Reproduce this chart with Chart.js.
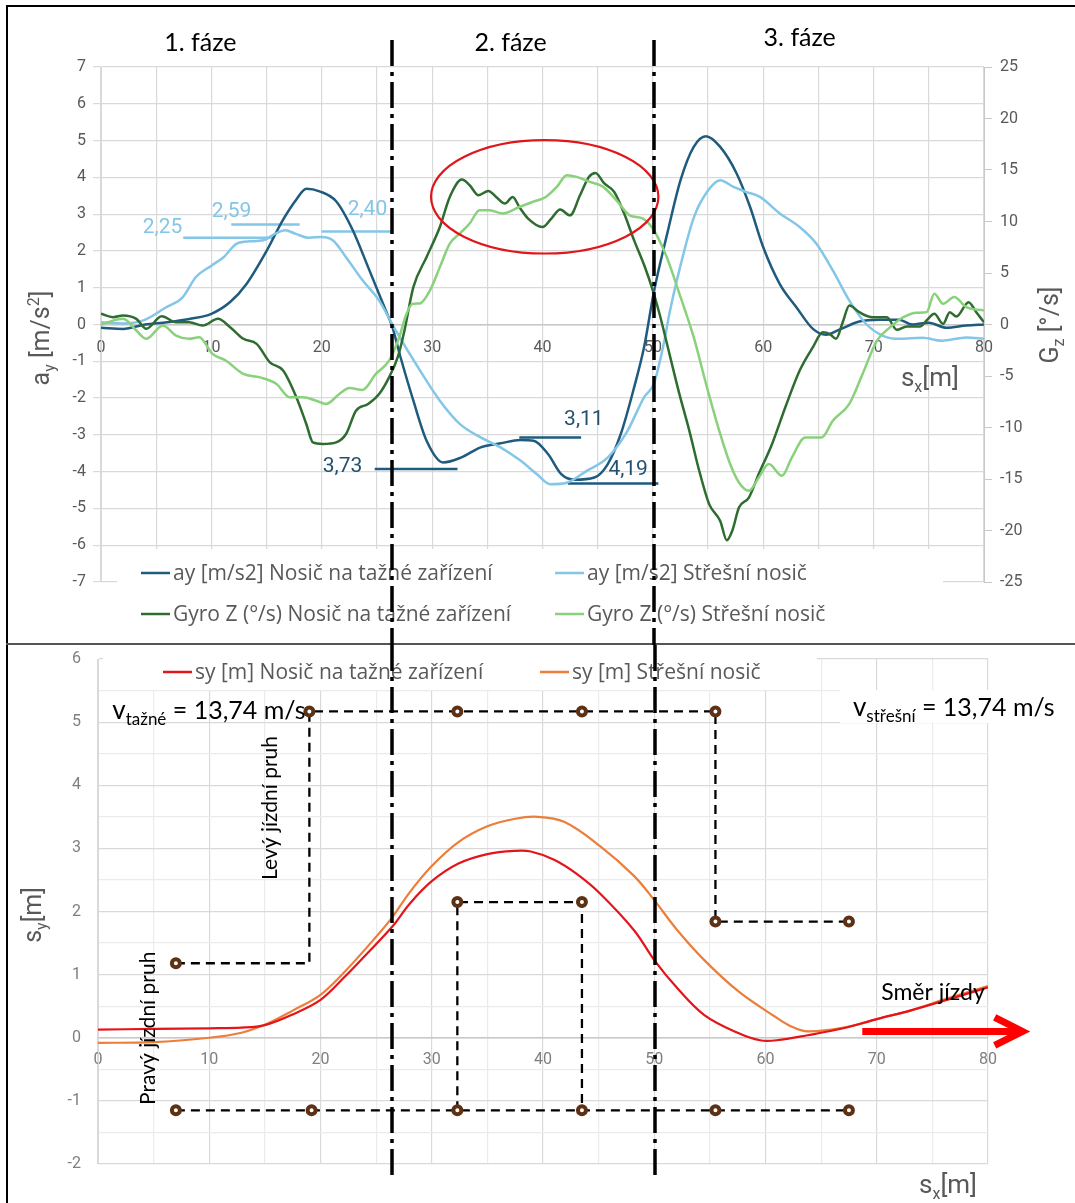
<!DOCTYPE html>
<html>
<head>
<meta charset="utf-8">
<script src="https://cdn.jsdelivr.net/npm/chart.js@4.4.1/dist/chart.umd.min.js"></script>
<style>
html, body { margin: 0; padding: 0; background: #fff; }
#page { position: relative; width: 1075px; height: 1203px; overflow: hidden; background: #fff; }
#frame { position: absolute; left: 6px; top: 5px; width: 1200px; height: 1300px; border-top: 2px solid #000; border-left: 2px solid #000; }
#sep { position: absolute; left: 6px; top: 643px; width: 1100px; border-top: 2px solid #555; }
canvas { position: absolute; left: 0; }
#topChart { top: 0; }
#botChart { top: 645px; }
</style>
</head>
<body>
<div id="page">
  <div id="frame"></div>
  <div id="sep"></div>
  <canvas id="topChart" width="1075" height="645"></canvas>
  <canvas id="botChart" width="1075" height="558"></canvas>
</div>
<script>
// ---- data: top chart (ay left axis, gyro right axis) ----
const ayTazneX = [0,2,4,6,8,10,11.7,13.2,15,16.5,17.7,18.6,19.8,21.3,22.8,24.2,25.8,26.4,27.1,28.3,29.5,31,32.6,34.4,36.2,38,39.2,40.5,41.7,42.9,44.7,45.9,47.1,48.3,49.2,50.1,51.3,52.5,53.7,54.8,56.1,57.6,58.8,60,61.5,63,64.5,65.7,66.9,68.7,70.5,72.3,73.5,75,76.6,78.4,80];
const ayTazneY = [-0.09,-0.12,0,0.06,0.15,0.29,0.61,1.11,2.0,2.85,3.4,3.69,3.62,3.35,2.57,1.56,0.38,-0.07,-0.85,-2.07,-3.16,-3.75,-3.62,-3.34,-3.23,-3.14,-3.16,-3.52,-4.07,-4.22,-4.16,-3.8,-2.97,-1.71,-0.62,0.9,2.47,3.92,4.83,5.12,4.83,4.1,3.2,2.1,1.1,0.47,-0.12,-0.28,-0.14,0.08,0.13,0.13,0.0,0.05,-0.09,-0.03,0];

const ayStresniX = [0,2,3.9,5.9,7.4,8.6,10,11.1,12.3,13.5,14.7,15.8,16.7,17.6,18.8,20,21,22.2,23.7,25.2,26.7,28.9,30.7,32.5,34.4,36.2,38,39.5,40.7,42.2,44,45.9,47.7,49.2,50.1,51,51.5,52.5,53.7,54.9,56.1,57.3,58.5,59.7,61.5,63.3,64.8,66.3,67.8,69.3,70.8,72.3,74.4,76.2,78.4,80];
const ayStresniY = [0.06,0.03,0.12,0.47,0.74,1.29,1.6,1.83,2.2,2.26,2.29,2.47,2.56,2.47,2.36,2.38,2.29,1.83,1.2,0.65,-0.16,-1.25,-2.07,-2.7,-3.07,-3.34,-3.7,-4.07,-4.34,-4.3,-3.98,-3.62,-2.89,-1.98,-1.6,-0.5,0.3,1.6,2.9,3.6,3.92,3.74,3.6,3.47,3.02,2.65,2.2,1.47,0.65,0.02,-0.3,-0.39,-0.36,-0.44,-0.35,-0.39];

const gyroTazneX = [0,1.1,2,3.2,4.1,5.5,6.8,8,9.2,10.6,11.7,12.9,14.1,15.3,16.5,17.7,18.6,19.2,20.1,21.3,22.2,23.1,24.2,25.2,26.1,26.9,27.5,28.3,29.5,30.7,31.6,32.7,33.4,34.2,35.1,35.8,36.6,37.3,37.9,38.7,40,40.8,41.6,42.5,43.4,44.2,44.8,45.6,46.5,47.4,48.3,49.2,50,50.6,51.5,52.4,53.3,54.2,55.1,56.1,56.7,57.2,57.8,58.7,59.6,60.8,62,63.3,64.5,65.4,66,66.6,67.2,67.8,68.7,69.9,71.2,72.1,73,74.2,74.8,75.5,76.3,76.9,77.5,78.6,79.3,80];
const gyroTazneY = [1.04,0.71,0.88,0.55,-0.42,0.81,0.22,0.22,-0.1,0.55,-0.26,-1.39,-1.88,-3.67,-4.47,-7.07,-9.66,-11.45,-11.6,-11.45,-10.63,-8.37,-7.71,-6.74,-5.13,-3.13,-0.55,3.63,6.55,9.46,12.38,14.07,13.52,12.55,12.97,12.38,11.74,12.38,11.41,10.28,9.46,10.28,11.16,10.6,12.55,14.33,14.72,13.69,12.87,10.77,8.17,5.8,3.3,1.04,-2.85,-6.74,-10.3,-14.2,-17.44,-19.07,-20.94,-20,-17.77,-16.8,-14.5,-11.6,-8.04,-4.47,-2.2,-0.75,-0.9,-1.39,0.22,1.85,1.2,0.71,0.71,-0.52,-0.19,-0.19,0.39,1.04,0.07,1.2,0.78,2.17,1.2,0.22];

const gyroStresniX = [0,2,3.2,4.1,5.6,6.8,8,8.9,10.1,11.3,12.9,14.4,15.9,17.1,18.3,19.5,20.4,21.6,22.5,23.7,24.9,26.1,27,27.6,28.2,28.9,29.8,30.7,31.6,32.5,33.4,34.3,35.2,36.4,37.9,39.1,40.3,41.3,42.2,43.1,44.3,45.5,46.7,47.9,49.1,50,51.2,52.4,53.7,54.9,56.1,57,57.8,58.7,59.6,60.5,61.7,62.6,63.8,65.3,66.3,67.8,69,70.3,71.5,72.7,73.9,74.8,75.5,76.3,77.3,78.4,80];
const gyroStresniY = [0,0.55,-0.58,-1.39,-0.1,-1.07,-1.39,-1.23,-2.85,-3.5,-4.8,-5.13,-5.77,-7.07,-7.07,-7.4,-7.71,-6.74,-6.16,-6.35,-4.8,-3.5,-1.3,0.8,2.0,2.05,3.3,5.57,7.85,8.82,9.8,11.09,11.09,10.77,11.41,11.9,12.38,13.36,14.5,14.33,13.84,13.36,12.06,10.6,10.28,9.3,6.7,3.0,-1.23,-6.1,-10.63,-13.55,-15.34,-16.15,-14.85,-13.55,-14.69,-12.9,-10.96,-10.96,-9.34,-7.71,-4.8,-1.56,-0.26,0.71,1.14,1.2,2.99,2.01,2.66,1.69,1.36];

// marked levels (value labels with short lines)
const levelText = ['2,25','2,59','2,40','3,73','3,11','4,19'];
const levelX0 = [7.45, 11.8, 20.0, 24.8, 37.9, 42.3];
const levelX1 = [15.6, 18.0, 26.3, 32.3, 43.5, 50.5];
const levelY  = [2.36, 2.72, 2.53, -3.93, -3.07, -4.32];
const levelLabelX = [5.57, 11.82, 24.14, 21.88, 43.75, 47.76];
const levelLabelY = [2.63, 3.06, 3.11, -3.87, -2.6, -3.95];

const phaseX = [26.4, 50.1];
const phaseNames = ['1. fáze', '2. fáze', '3. fáze'];
const phaseNameX = [9.0, 37.1, 63.3];

// ---- data: bottom chart (trajectory) ----
const syTazneX = [0,5,10,12.9,15,17.5,20,22.2,24,26.5,28,30,32.4,35,37.5,38.9,41,43,45.1,48.2,50,52,54.5,57.6,59.5,61,63.8,67,70.1,73,76.3,80];
const syTazneY = [0.13,0.14,0.15,0.16,0.2,0.37,0.6,0.97,1.3,1.77,2.12,2.48,2.76,2.91,2.96,2.95,2.82,2.6,2.29,1.7,1.23,0.8,0.36,0.07,-0.04,-0.04,0.04,0.15,0.3,0.43,0.6,0.8];
const syStresniX = [0,5,10,12.9,15.3,17.5,20,22.2,25,26.5,28,30,32.4,35,37.5,39.5,41.9,45.1,48.2,50,52,54.5,57.6,60.8,62.3,63.8,67,70.1,73,76.3,80];
const syStresniY = [-0.08,-0.07,0,0.08,0.23,0.43,0.68,1.05,1.6,1.92,2.3,2.72,3.1,3.35,3.47,3.5,3.42,3.04,2.56,2.18,1.72,1.23,0.73,0.34,0.18,0.1,0.16,0.3,0.43,0.62,0.82];

const laneLeftX = [7, 19, 19, 55.5, 55.5, 67.5];
const laneLeftY = [1.18, 1.18, 5.17, 5.17, 1.84, 1.84];
const laneMidX = [32.3, 32.3, 43.5, 43.5];
const laneMidY = [-1.15, 2.15, 2.15, -1.15];
const laneRightX = [7, 67.5];
const laneRightY = [-1.15, -1.15];
const coneX = [7, 19, 32.3, 43.5, 55.5, 55.5, 67.5, 32.3, 43.5, 7, 19.2, 32.3, 43.5, 55.5, 67.5];
const coneY = [1.18, 5.17, 5.17, 5.17, 5.17, 1.84, 1.84, 2.15, 2.15, -1.15, -1.15, -1.15, -1.15, -1.15, -1.15];

const C = {
  darkBlue: '#1f5b7e', lightBlue: '#84c6e8', darkGreen: '#2e6c30', lightGreen: '#8ad17c',
  red: '#e4141b', orange: '#ec7d3a', brown: '#5c3114', tick: '#595959', grid: '#d9d9d9'
};
const TF = 'Roboto';
const LF = '"Open Sans"';
const AF = 'Lato';

const pts = (xs, ys) => xs.map((x, i) => ({ x: x, y: ys[i] }));
const segs = (idx) => {
  const out = [];
  idx.forEach(i => { out.push({ x: levelX0[i], y: levelY[i] }, { x: levelX1[i], y: levelY[i] }, { x: levelX1[i], y: null }); });
  return out;
};
// keep axis label padding from pushing the plot area around
const noPad = (w) => (s) => { s.width = w; s.paddingTop = 0; s.paddingBottom = 0; };

// text with sub/superscripts: parts = [text, size, dy]
function rich(ctx, parts, x, y, align, color, family) {
  let w = 0;
  parts.forEach(p => { ctx.font = p[1] + 'px ' + family; w += ctx.measureText(p[0]).width; });
  let cx = align === 'center' ? x - w / 2 : (align === 'right' ? x - w : x);
  ctx.fillStyle = color;
  ctx.textAlign = 'left';
  ctx.textBaseline = 'alphabetic';
  parts.forEach(p => {
    ctx.font = p[1] + 'px ' + family;
    ctx.fillText(p[0], cx, y + (p[2] || 0));
    cx += ctx.measureText(p[0]).width;
  });
}
function richRot(ctx, parts, x, y, color, family) {
  ctx.save();
  ctx.translate(x, y);
  ctx.rotate(-Math.PI / 2);
  rich(ctx, parts, 0, 0, 'center', color, family);
  ctx.restore();
}
function phaseLines(chart, y0, y1) {
  const ctx = chart.ctx, xs = chart.scales.x;
  ctx.save();
  ctx.strokeStyle = '#000';
  ctx.lineWidth = 3.5;
  ctx.setLineDash([26, 6, 4, 6]);
  phaseX.forEach(v => {
    const px = Math.round(xs.getPixelForValue(v));
    ctx.beginPath(); ctx.moveTo(px, y0); ctx.lineTo(px, y1); ctx.stroke();
  });
  ctx.restore();
}
function legendItem(ctx, x, y, color, text) {
  ctx.strokeStyle = color; ctx.lineWidth = 2.5;
  ctx.beginPath(); ctx.moveTo(x, y); ctx.lineTo(x + 29, y); ctx.stroke();
  ctx.fillStyle = '#595959'; ctx.font = '21px ' + LF;
  ctx.textAlign = 'left'; ctx.textBaseline = 'middle';
  ctx.fillText(text, x + 32, y + 1);
}

const topDecor = {
  id: 'topDecor',
  beforeDatasetsDraw(chart) {
    const ctx = chart.ctx;
    ctx.save();
    ctx.fillStyle = '#fff';
    ctx.fillRect(117, 549, 826, 92);
    legendItem(ctx, 141, 573, C.darkBlue, 'ay [m/s2] Nosič na tažné zařízení');
    legendItem(ctx, 555, 573, C.lightBlue, 'ay [m/s2] Střešní nosič');
    legendItem(ctx, 141, 614, C.darkGreen, 'Gyro Z (°/s) Nosič na tažné zařízení');
    legendItem(ctx, 555, 614, C.lightGreen, 'Gyro Z (°/s) Střešní nosič');
    ctx.restore();
  },
  afterDraw(chart) {
    const ctx = chart.ctx, xs = chart.scales.x, ys = chart.scales.y;
    ctx.save();
    // ellipse around 2nd phase peak
    const cx = xs.getPixelForValue(40.2), cy = ys.getPixelForValue(3.47);
    const rx = xs.getPixelForValue(40.2 + 10.3) - cx, ry = cy - ys.getPixelForValue(3.47 + 1.54);
    ctx.strokeStyle = '#e0161b'; ctx.lineWidth = 2.2;
    ctx.beginPath(); ctx.ellipse(cx, cy, rx, ry, 0, 0, Math.PI * 2); ctx.stroke();
    // level labels
    ctx.font = '21px ' + TF; ctx.textAlign = 'center'; ctx.textBaseline = 'middle';
    levelText.forEach((t, i) => {
      ctx.fillStyle = i < 3 ? C.lightBlue : '#24506f';
      ctx.fillText(t, xs.getPixelForValue(levelLabelX[i]), ys.getPixelForValue(levelLabelY[i]));
    });
    // phase names
    ctx.fillStyle = '#000'; ctx.font = '25px ' + AF;
    phaseNames.forEach((t, i) => ctx.fillText(t, xs.getPixelForValue(phaseNameX[i]), i === 2 ? 38 : 43));
    // axis titles
    rich(ctx, [['s', 26], ['x', 16, 6], ['[m]', 26]], xs.getPixelForValue(75.1), 386, 'center', '#595959', TF);
    richRot(ctx, [['a', 25], ['y', 16, 6], [' [m/s', 25], ['2', 16, -10], [']', 25]], 49, 338, '#595959', TF);
    richRot(ctx, [['G', 25], ['z', 16, 6], [' [°/s]', 25]], 1058, 325, '#595959', TF);
    ctx.restore();
    phaseLines(chart, 40, 645);
  }
};

const botDecor = {
  id: 'botDecor',
  beforeDatasetsDraw(chart) {
    const ctx = chart.ctx;
    ctx.save();
    ctx.fillStyle = '#fff';
    ctx.fillRect(103, 10, 714, 35);
    ctx.fillRect(840, 45, 225, 33);
    legendItem(ctx, 163, 27, C.red, 'sy [m] Nosič na tažné zařízení');
    legendItem(ctx, 540, 27, C.orange, 'sy [m] Střešní nosič');
    ctx.restore();
  },
  afterDraw(chart) {
    const ctx = chart.ctx, xs = chart.scales.x, ys = chart.scales.y;
    ctx.save();
    // direction arrow
    const ay = ys.getPixelForValue(0.1);
    const ax0 = xs.getPixelForValue(68.7), ax1 = xs.getPixelForValue(83.1), ah = xs.getPixelForValue(80.6);
    ctx.strokeStyle = '#ff0000'; ctx.lineWidth = 7; ctx.lineJoin = 'miter';
    ctx.beginPath(); ctx.moveTo(ax0, ay); ctx.lineTo(ax1 - 3, ay); ctx.stroke();
    ctx.beginPath(); ctx.moveTo(ah, ay - 14); ctx.lineTo(ax1, ay); ctx.lineTo(ah, ay + 14); ctx.stroke();
    // texts
    rich(ctx, [['Směr jízdy', 23]], xs.getPixelForValue(70.4), ys.getPixelForValue(0.6), 'left', '#000', AF);
    rich(ctx, [['v', 26], ['tažné', 17, 6], [' = 13,74 m/s', 25]], xs.getPixelForValue(1.28), ys.getPixelForValue(5.05), 'left', '#000', AF);
    rich(ctx, [['v', 26], ['střešní', 17, 6], [' = 13,74 m/s', 25]], xs.getPixelForValue(67.86), ys.getPixelForValue(5.09), 'left', '#000', AF);
    richRot(ctx, [['Levý jízdní pruh', 21]], xs.getPixelForValue(15.48) + 7, ys.getPixelForValue(3.64), '#000', AF);
    richRot(ctx, [['Pravý jízdní pruh', 21]], xs.getPixelForValue(4.52) + 7, ys.getPixelForValue(0.15), '#000', AF);
    rich(ctx, [['s', 26], ['x', 16, 6], ['[m]', 26]], 977, 548, 'right', '#595959', TF);
    richRot(ctx, [['s', 25], ['y', 16, 6], ['[m]', 25]], 41, 270, '#595959', TF);
    ctx.restore();
    phaseLines(chart, 0, 530);
  }
};

Chart.defaults.font.family = TF;
Chart.defaults.color = C.tick;

new Chart(document.getElementById('topChart'), {
  type: 'line',
  data: {
    datasets: [
      { label: 'Gyro Z (°/s) Střešní nosič', data: pts(gyroStresniX, gyroStresniY), borderColor: C.lightGreen, yAxisID: 'y2' },
      { label: 'Gyro Z (°/s) Nosič na tažné zařízení', data: pts(gyroTazneX, gyroTazneY), borderColor: C.darkGreen, yAxisID: 'y2' },
      { label: 'ay [m/s2] Střešní nosič', data: pts(ayStresniX, ayStresniY), borderColor: C.lightBlue, yAxisID: 'y' },
      { label: 'ay [m/s2] Nosič na tažné zařízení', data: pts(ayTazneX, ayTazneY), borderColor: C.darkBlue, yAxisID: 'y' },
      { label: 'levels1', data: segs([0, 1, 2]), borderColor: C.lightBlue, borderWidth: 2.5, cubicInterpolationMode: 'default', tension: 0, yAxisID: 'y' },
      { label: 'levels2', data: segs([3, 4, 5]), borderColor: C.darkBlue, borderWidth: 2.5, cubicInterpolationMode: 'default', tension: 0, yAxisID: 'y' }
    ]
  },
  options: {
    responsive: false, animation: false, devicePixelRatio: 1,
    layout: { padding: { top: 67, bottom: 63, left: 0, right: 0 } },
    elements: { point: { radius: 0 }, line: { borderWidth: 2.5, cubicInterpolationMode: 'monotone', fill: false } },
    plugins: { legend: { display: false }, tooltip: { enabled: false } },
    scales: {
      x: {
        type: 'linear', min: 0, max: 80, position: { y: 0 },
        afterFit(s) { s.height = 0; },
        ticks: { stepSize: 5, autoSkip: false, maxRotation: 0, padding: 14, font: { size: 16 }, color: C.tick,
          callback: v => (v % 10 === 0 ? v : '') },
        grid: { color: C.grid, lineWidth: 1.2, drawTicks: false },
        border: { color: '#c8c8c8', width: 1.5 }
      },
      y: {
        position: 'left', min: -7, max: 7,
        afterFit: noPad(101),
        ticks: { stepSize: 1, padding: 7, font: { size: 16 }, color: C.tick },
        grid: { color: C.grid, lineWidth: 1.2, tickLength: 8 },
        border: { color: C.grid }
      },
      y2: {
        position: 'right', min: -25, max: 25,
        afterFit: noPad(91),
        ticks: { stepSize: 5, padding: 8, font: { size: 16 }, color: C.tick },
        grid: { drawOnChartArea: false, color: '#c8c8c8', tickLength: 8 },
        border: { color: '#c8c8c8' }
      }
    }
  },
  plugins: [topDecor]
});

new Chart(document.getElementById('botChart'), {
  type: 'line',
  data: {
    datasets: [
      { label: 'sy [m] Nosič na tažné zařízení', data: pts(syTazneX, syTazneY), borderColor: C.red, borderWidth: 2.2, cubicInterpolationMode: 'default', tension: 0.35 },
      { label: 'sy [m] Střešní nosič', data: pts(syStresniX, syStresniY), borderColor: C.orange, borderWidth: 2.2, cubicInterpolationMode: 'default', tension: 0.35 },
      { label: 'cones', data: pts(coneX, coneY), showLine: false, pointRadius: 4, pointBorderWidth: 4,
        pointBackgroundColor: '#fff', pointBorderColor: C.brown },
      { label: 'lane left', data: pts(laneLeftX, laneLeftY), borderColor: '#000', borderWidth: 2.3, borderDash: [9, 6], tension: 0, cubicInterpolationMode: 'default' },
      { label: 'lane mid', data: pts(laneMidX, laneMidY), borderColor: '#000', borderWidth: 2.3, borderDash: [9, 6], tension: 0, cubicInterpolationMode: 'default' },
      { label: 'lane right', data: pts(laneRightX, laneRightY), borderColor: '#000', borderWidth: 2.3, borderDash: [9, 6], tension: 0, cubicInterpolationMode: 'default' }
    ]
  },
  options: {
    responsive: false, animation: false, devicePixelRatio: 1,
    layout: { padding: { top: 14, bottom: 39, left: 0, right: 87 } },
    elements: { point: { radius: 0 }, line: { borderWidth: 2.2, cubicInterpolationMode: 'monotone', fill: false } },
    plugins: { legend: { display: false }, tooltip: { enabled: false } },
    scales: {
      x: {
        type: 'linear', min: 0, max: 80, position: { y: 0 },
        afterFit(s) { s.height = 0; },
        ticks: { stepSize: 5, autoSkip: false, maxRotation: 0, padding: 13, font: { size: 16 }, color: '#7f7f7f',
          callback: v => (v % 10 === 0 ? v : '') },
        grid: { color: c => (c.tick && c.tick.value % 10 === 0 ? '#d9d9d9' : '#ebebeb'), lineWidth: 1.2, drawTicks: false },
        border: { color: '#c8c8c8', width: 1.5 }
      },
      y: {
        position: 'left', min: -2, max: 6,
        afterFit: noPad(98),
        ticks: { stepSize: 0.5, autoSkip: false, padding: 17, font: { size: 16 }, color: '#7f7f7f',
          callback: v => (v % 1 === 0 ? v : '') },
        grid: { color: c => (c.tick && c.tick.value % 1 === 0 ? '#d9d9d9' : '#ebebeb'), lineWidth: 1.2, drawTicks: false },
        border: { color: '#d9d9d9' }
      }
    }
  },
  plugins: [botDecor]
});
</script>
</body>
</html>
